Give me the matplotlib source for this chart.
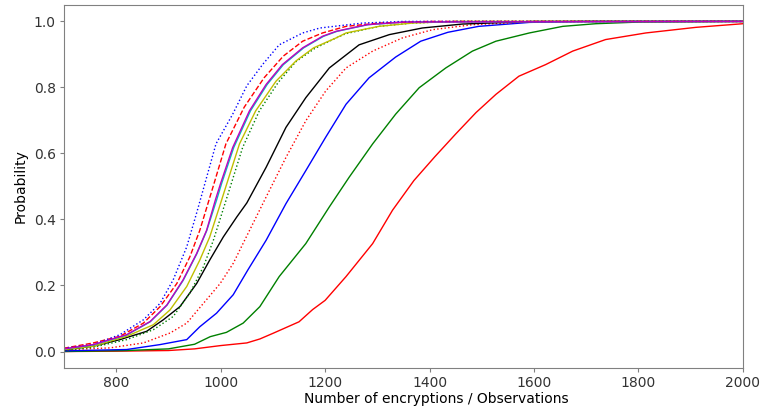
import matplotlib
matplotlib.use("Agg")
import matplotlib.pyplot as plt

# curves (x = encryptions, p = cumulative probability)
blue_dot_x = [700, 756, 807, 852, 884, 909, 935, 954, 962, 991, 1023, 1050, 1080, 1112, 1157, 1190, 1272, 1350, 2000]
blue_dot_p = [0.01, 0.021, 0.051, 0.096, 0.146, 0.217, 0.317, 0.42, 0.465, 0.629, 0.719, 0.805, 0.869, 0.929, 0.965, 0.98, 0.995, 1.0, 1.0]

red_dash_x = [700, 756, 807, 852, 884, 916, 941, 960, 979, 985, 1010, 1045, 1083, 1120, 1157, 1195, 1240, 1304, 1400, 2000]
red_dash_p = [0.01, 0.026, 0.046, 0.086, 0.136, 0.206, 0.287, 0.367, 0.466, 0.497, 0.629, 0.74, 0.829, 0.895, 0.94, 0.965, 0.985, 0.995, 1.0, 1.0]

cyan_x = [700, 756, 820, 865, 897, 928, 954, 973, 992, 1002, 1025, 1057, 1089, 1120, 1159, 1197, 1223, 1282, 1352, 2000]
cyan_p = [0.008, 0.02, 0.05, 0.09, 0.14, 0.215, 0.295, 0.365, 0.458, 0.51, 0.618, 0.729, 0.809, 0.869, 0.92, 0.955, 0.97, 0.99, 0.998, 1.0]

mag_x = [700, 756, 820, 865, 897, 928, 954, 973, 990, 1000, 1023, 1055, 1087, 1118, 1157, 1195, 1221, 1280, 1350, 2000]
mag_p = [0.008, 0.021, 0.051, 0.091, 0.141, 0.217, 0.297, 0.367, 0.46, 0.51, 0.618, 0.729, 0.809, 0.869, 0.92, 0.955, 0.97, 0.99, 0.998, 1.0]

yel_x = [700, 756, 820, 871, 903, 935, 960, 979, 999, 1005, 1036, 1067, 1106, 1144, 1178, 1221, 1240, 1303, 1367, 1450, 2000]
yel_p = [0.006, 0.016, 0.046, 0.081, 0.126, 0.197, 0.277, 0.347, 0.445, 0.475, 0.629, 0.729, 0.819, 0.88, 0.92, 0.95, 0.965, 0.985, 0.995, 1.0, 1.0]

green_dot_x = [700, 756, 820, 871, 909, 941, 967, 986, 1005, 1012, 1042, 1074, 1110, 1144, 1180, 1221, 1240, 1303, 1367, 1450, 2000]
green_dot_p = [0.004, 0.013, 0.036, 0.066, 0.106, 0.177, 0.257, 0.337, 0.432, 0.467, 0.618, 0.729, 0.815, 0.878, 0.918, 0.95, 0.963, 0.985, 0.995, 1.0, 1.0]

black_x = [700, 756, 807, 858, 890, 922, 954, 979, 1005, 1031, 1050, 1087, 1125, 1163, 1208, 1265, 1323, 1386, 1463, 1600, 2000]
black_p = [0.005, 0.016, 0.036, 0.061, 0.096, 0.136, 0.206, 0.277, 0.347, 0.408, 0.45, 0.558, 0.679, 0.769, 0.859, 0.929, 0.96, 0.98, 0.992, 1.0, 1.0]

red_dot_x = [700, 788, 852, 903, 935, 967, 999, 1024, 1049, 1087, 1125, 1163, 1201, 1240, 1291, 1348, 1406, 1482, 1600, 2000]
red_dot_p = [0.005, 0.011, 0.026, 0.056, 0.086, 0.146, 0.206, 0.267, 0.347, 0.468, 0.588, 0.699, 0.789, 0.859, 0.91, 0.95, 0.975, 0.99, 0.999, 1.0]

blue_x = [700, 820, 884, 935, 960, 992, 1024, 1052, 1087, 1125, 1163, 1201, 1240, 1284, 1335, 1383, 1435, 1494, 1591, 1700, 2000]
blue_p = [0.002, 0.006, 0.021, 0.036, 0.075, 0.116, 0.172, 0.247, 0.337, 0.448, 0.548, 0.649, 0.749, 0.829, 0.892, 0.94, 0.967, 0.985, 0.997, 1.0, 1.0]

green_x = [700, 820, 900, 950, 980, 1011, 1043, 1075, 1112, 1163, 1208, 1246, 1291, 1335, 1380, 1431, 1482, 1527, 1591, 1655, 1718, 1800, 2000]
green_p = [0.0, 0.003, 0.008, 0.022, 0.045, 0.058, 0.086, 0.136, 0.227, 0.327, 0.438, 0.528, 0.629, 0.719, 0.799, 0.859, 0.91, 0.94, 0.965, 0.985, 0.993, 0.998, 1.0]

red_x = [700, 800, 900, 950, 1000, 1050, 1075, 1100, 1150, 1176, 1200, 1240, 1291, 1329, 1370, 1410, 1450, 1489, 1527, 1571, 1622, 1674, 1737, 1814, 1910, 2000]
red_p = [0.0, 0.001, 0.003, 0.008, 0.018, 0.026, 0.038, 0.055, 0.09, 0.127, 0.155, 0.227, 0.327, 0.428, 0.518, 0.59, 0.659, 0.724, 0.779, 0.834, 0.869, 0.91, 0.945, 0.965, 0.982, 0.993]

plt.rcParams['font.family'] = 'DejaVu Sans'
plt.rcParams['font.size'] = 10

fig = plt.figure(figsize=(7.62, 4.08), dpi=100)
ax = fig.add_axes([0.084, 0.098, 0.891, 0.89])

lw = 1.0
ax.plot(red_x, red_p, color='red', lw=lw)
ax.plot(green_x, green_p, color='green', lw=lw)
ax.plot(blue_x, blue_p, color='blue', lw=lw)
ax.plot(red_dot_x, red_dot_p, color='red', ls=':', lw=lw)
ax.plot(black_x, black_p, color='black', lw=lw)
ax.plot(green_dot_x, green_dot_p, color='green', ls=':', lw=lw)
ax.plot(yel_x, yel_p, color='y', lw=lw)
ax.plot(cyan_x, cyan_p, color='c', lw=lw)
ax.plot(red_dash_x, red_dash_p, color='red', ls='--', lw=lw)
ax.plot(blue_dot_x, blue_dot_p, color='blue', ls=':', lw=lw)
ax.plot(mag_x, mag_p, color='m', lw=lw)

ax.set_xlim(700, 2000)
ax.set_ylim(-0.05, 1.05)
ax.set_xticks([800, 1000, 1200, 1400, 1600, 1800, 2000])
ax.set_yticks([0.0, 0.2, 0.4, 0.6, 0.8, 1.0])
ax.set_xlabel('Number of encryptions / Observations')
ax.xaxis.set_label_coords(0.548, -0.065)
ax.set_ylabel('Probability')
for s in ax.spines.values():
    s.set_color('gray')
ax.tick_params(colors='#333333', length=3, pad=3)
ax.tick_params(axis='both', color='gray')

fig.savefig('out.png', dpi=100)
